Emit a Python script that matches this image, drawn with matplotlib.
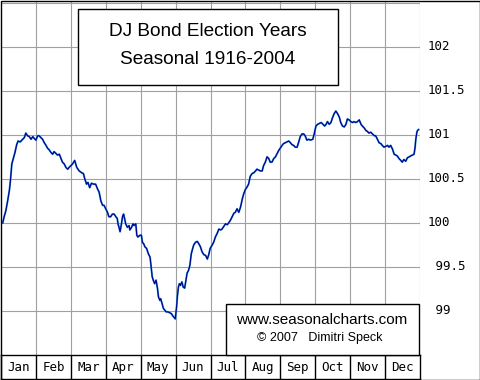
import matplotlib
matplotlib.use("Agg")
import matplotlib.pyplot as plt
from matplotlib.patches import Rectangle
from matplotlib import transforms

# ---- data (x in fractional months from Jan 1, y = seasonal index) ----
t_month = [0.05,0.09,0.14,0.19,0.24,0.27,0.31,0.36,0.40,0.45,0.49,0.55,0.62,0.67,0.71,0.76,0.81,0.86,0.91,0.95,
           1.00,1.05,1.09,1.14,1.19,1.24,1.29,1.33,1.38,1.43,1.48,1.52,1.57,1.62,1.67,1.71,1.76,1.81,1.86,1.91,1.95,
           2.00,2.05,2.11,2.17,2.24,2.31,2.36,2.40,2.45,2.49,2.54,2.59,2.65,2.71,2.76,2.81,2.86,2.91,2.95,
           3.00,3.05,3.09,3.14,3.19,3.24,3.29,3.33,3.35,3.38,3.41,3.45,3.48,3.51,3.54,3.57,3.62,3.67,3.69,3.74,3.78,3.81,3.86,3.89,3.92,3.98,
           4.02,4.05,4.09,4.12,4.17,4.22,4.27,4.29,4.31,4.33,4.36,4.40,4.44,4.48,4.51,4.55,4.57,4.61,4.65,4.69,4.73,4.78,4.83,4.88,4.91,4.95,4.99,
           5.03,5.05,5.08,5.11,5.14,5.18,5.22,5.26,5.29,5.33,5.37,5.41,5.45,5.49,5.52,5.57,5.62,5.67,5.71,5.76,5.81,5.86,5.91,5.95,5.99,
           6.05,6.09,6.14,6.19,6.24,6.29,6.33,6.38,6.43,6.48,6.52,6.57,6.62,6.67,6.71,6.76,6.81,6.86,6.91,6.95,
           7.00,7.05,7.09,7.14,7.19,7.24,7.29,7.33,7.38,7.43,7.48,7.52,7.57,7.62,7.67,7.71,7.76,7.81,7.86,7.91,7.95,
           8.00,8.05,8.09,8.14,8.19,8.24,8.29,8.33,8.38,8.43,8.48,8.52,8.57,8.62,8.67,8.71,8.76,8.81,8.86,8.93,8.97,
           9.02,9.07,9.12,9.17,9.22,9.27,9.31,9.35,9.40,9.45,9.49,9.54,9.59,9.64,9.69,9.73,9.78,9.83,9.88,9.92,9.97,
           10.02,10.07,10.11,10.16,10.21,10.26,10.31,10.35,10.40,10.45,10.49,10.54,10.59,10.64,10.69,10.73,10.78,10.83,10.88,10.92,10.97,
           11.02,11.07,11.11,11.16,11.21,11.26,11.31,11.35,11.40,11.45,11.49,11.54,11.59,11.64,11.69,11.73,11.78,11.83,11.86,11.88,11.91,11.93,11.96]
index_value = [100.00,100.07,100.14,100.25,100.37,100.48,100.67,100.74,100.80,100.89,100.93,100.92,100.95,100.97,101.02,100.99,100.98,100.95,100.98,100.96,
               100.94,100.99,100.99,100.97,100.95,100.91,100.88,100.85,100.83,100.80,100.78,100.81,100.79,100.77,100.78,100.74,100.69,100.67,100.63,100.61,100.63,
               100.65,100.67,100.71,100.63,100.59,100.57,100.56,100.50,100.44,100.46,100.40,100.45,100.44,100.44,100.39,100.35,100.25,100.20,100.20,
               100.16,100.12,100.07,100.07,100.10,100.10,100.07,100.05,99.99,99.95,99.90,99.99,100.07,100.10,100.05,99.99,99.95,99.97,99.92,99.95,99.99,99.97,99.99,99.86,99.84,99.86,
               99.86,99.78,99.76,99.73,99.71,99.65,99.61,99.54,99.48,99.39,99.35,99.31,99.35,99.26,99.16,99.12,99.14,99.09,99.03,99.01,98.99,98.99,98.98,98.97,98.95,98.93,98.91,
               99.05,99.16,99.27,99.31,99.29,99.33,99.27,99.26,99.33,99.43,99.46,99.52,99.65,99.71,99.75,99.78,99.79,99.76,99.73,99.67,99.64,99.63,99.59,99.64,99.71,
               99.75,99.78,99.84,99.88,99.93,99.92,99.93,99.96,99.99,99.98,100.00,100.03,100.07,100.11,100.12,100.16,100.12,100.18,100.27,100.33,
               100.38,100.41,100.44,100.53,100.56,100.57,100.59,100.61,100.60,100.59,100.59,100.65,100.69,100.75,100.73,100.69,100.69,100.73,100.75,100.79,100.82,
               100.85,100.88,100.90,100.91,100.92,100.93,100.91,100.89,100.88,100.86,100.86,100.91,100.98,101.01,101.01,100.99,100.94,100.95,100.94,100.95,101.01,
               101.10,101.12,101.13,101.14,101.12,101.10,101.12,101.15,101.12,101.14,101.19,101.24,101.27,101.24,101.20,101.14,101.10,101.09,101.12,101.18,101.17,
               101.15,101.14,101.15,101.14,101.15,101.17,101.12,101.10,101.08,101.05,101.04,101.02,101.03,101.01,100.99,100.99,100.95,100.91,100.90,100.88,100.86,
               100.87,100.88,100.86,100.88,100.84,100.78,100.77,100.76,100.73,100.71,100.69,100.72,100.70,100.74,100.75,100.76,100.77,100.78,100.86,100.95,101.03,101.05,101.06]
months = ["Jan", "Feb", "Mar", "Apr", "May", "Jun", "Jul", "Aug", "Sep", "Oct", "Nov", "Dec"]
y_ticks = [99.0, 99.5, 100.0, 100.5, 101.0, 101.5, 102.0]
y_tick_labels = [" 99", " 99.5", "100", "100.5", "101", "101.5", "102"]
title_lines = ["DJ Bond Election Years", "Seasonal 1916-2004"]
credit_lines = ["www.seasonalcharts.com", "\u00a9 2007   Dimitri Speck"]

W, H = 480, 380
fig = plt.figure(figsize=(W / 100, H / 100), dpi=100)
fig.patch.set_facecolor("white")

def fx(px):
    return px / W

def fy(py):
    return 1 - py / H

# main plot area
ax = fig.add_axes([fx(1), fy(355), fx(419), (355 - 1) / H])
ax.set_xlim(0, 12)
ax.set_ylim(98.5, 102.52)
for s in ax.spines.values():
    s.set_visible(False)
ax.set_xticks(range(1, 13))
ax.set_yticks(y_ticks + [102.5])
ax.tick_params(length=0, labelbottom=False, labelleft=False)
ax.grid(True, color="#a0a0a0", linewidth=0.8)
ax.set_axisbelow(True)
ax.plot(t_month, index_value, color="#2a8ad8", linewidth=1.35, solid_joinstyle="round", zorder=3)
ax.plot(t_month, index_value, color="#00008c", linewidth=0.8, solid_joinstyle="round", zorder=4)

# right-hand value labels
trans = transforms.blended_transform_factory(fig.transFigure, ax.transData)
for v, lab in zip(y_ticks, y_tick_labels):
    ax.text(fx(428), v, lab, transform=trans, ha="left", va="center",
            family="DejaVu Sans Mono", fontsize=9, color="black", clip_on=False)

# month strip
axm = fig.add_axes([fx(1), fy(379), fx(419), 24 / H])
axm.set_xlim(0, 12)
axm.set_ylim(0, 1)
axm.set_xticks([])
axm.set_yticks([])
for s in axm.spines.values():
    s.set_color("black")
    s.set_linewidth(1.0)
for i in range(1, 12):
    axm.axvline(i, color="black", linewidth=1.0)
for i, m in enumerate(months):
    axm.text(i + 0.5, 0.48, m, ha="center", va="center",
             family="DejaVu Sans Mono", fontsize=9, color="black")

# title box
fig.add_artist(Rectangle((fx(78), fy(85)), fx(338 - 78), (85 - 9) / H, transform=fig.transFigure,
                         facecolor="white", edgecolor="black", linewidth=1.0, zorder=5))
fig.text(fx(208), fy(32), title_lines[0], ha="center", va="center",
         family="Liberation Sans", fontsize=13.7, zorder=6)
fig.text(fx(208), fy(60), title_lines[1], ha="center", va="center",
         family="Liberation Sans", fontsize=13.7, zorder=6)

# credit box
fig.add_artist(Rectangle((fx(226), fy(355)), fx(419 - 226), (355 - 304) / H, transform=fig.transFigure,
                         facecolor="white", edgecolor="black", linewidth=1.0, zorder=5))
fig.text(fx(322), fy(320), credit_lines[0], ha="center", va="center",
         family="Liberation Sans", fontsize=11, zorder=6)
fig.text(fx(320), fy(338), credit_lines[1], ha="center", va="center",
         family="Liberation Sans", fontsize=9, zorder=6)

# outer border
fig.add_artist(Rectangle((0.5 / W, 0.5 / H), 479 / W, 379 / H, transform=fig.transFigure,
                         facecolor="none", edgecolor="black", linewidth=1.0, zorder=10))

fig.savefig("out.png", dpi=100, facecolor="white")
